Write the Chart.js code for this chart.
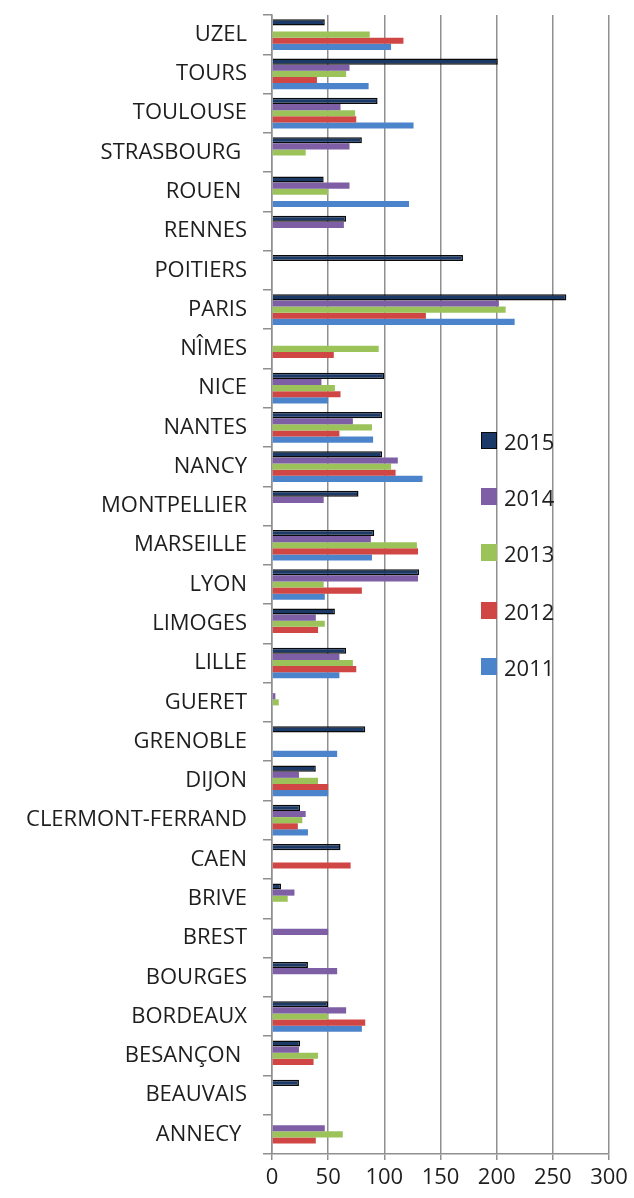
<!DOCTYPE html>
<html>
<head>
<meta charset="utf-8">
<script src="https://cdn.jsdelivr.net/npm/chart.js@4"></script>
<style>
    body { margin: 0; background: #fff; }
    #wrap { position: relative; width: 634px; height: 1198px; }
    #legend { position: absolute; left: 481px; top: 0; font-family: "Open Sans", sans-serif; font-size: 22px; color: #1e1e1e; }
    .row { position: absolute; left: 0; white-space: nowrap; height: 30px; line-height: 30px; }
    .box { position: absolute; left: 0; top: 6px; width: 16px; height: 17px; box-sizing: border-box; }
    .txt { position: absolute; left: 23px; top: 0; }
</style>
</head>
<body>
<div id="wrap">
    <canvas id="myChart" width="634" height="1198"></canvas>
    <div id="legend"></div>
</div>
<script>
// categories, top to bottom (trailing spaces kept as in the original labels)
const villes = ['UZEL', 'TOURS', 'TOULOUSE', 'STRASBOURG ', 'ROUEN ', 'RENNES', 'POITIERS', 'PARIS', 'NÎMES', 'NICE',
    'NANTES', 'NANCY', 'MONTPELLIER', 'MARSEILLE', 'LYON', 'LIMOGES', 'LILLE', 'GUERET', 'GRENOBLE', 'DIJON',
    'CLERMONT-FERRAND', 'CAEN', 'BRIVE', 'BREST', 'BOURGES', 'BORDEAUX', 'BESANÇON ', 'BEAUVAIS', 'ANNECY '];

const annees = ['2015', '2014', '2013', '2012', '2011'];

const v2015 = [47, 201, 94, 80, 46, 66, 170, 262, null, 100, 98, 98, 77, 91, 131, 56, 66, null, 83, 39, 25, 61, 8, null, 32, 50, 25, 24, null];
const v2014 = [null, 69, 61, 69, 69, 64, null, 202, null, 44, 72, 112, 46, 88, 130, 39, 60, 3, null, 24, 30, null, 20, 50, 58, 66, 24, null, 47];
const v2013 = [87, 66, 74, 30, 50, null, null, 208, 95, 56, 89, 106, null, 129, 46, 47, 72, 6, null, 41, 27, null, 14, null, null, 50, 41, null, 63];
const v2012 = [117, 40, 75, null, null, null, null, 137, 55, 61, 60, 110, null, 130, 80, 41, 75, null, null, 50, 23, 70, null, null, null, 83, 37, null, 39];
const v2011 = [106, 86, 126, null, 122, null, null, 216, null, 50, 90, 134, null, 89, 47, null, 60, null, 58, 50, 32, null, null, null, null, 80, null, null, null];

const xTicks = [0, 50, 100, 150, 200, 250, 300];

const couleurs = ['#1C3A68', '#7E5FA6', '#9BC35A', '#CF4644', '#4C84CC'];
const series = [v2015, v2014, v2013, v2012, v2011];

document.addEventListener('DOMContentLoaded', function() {
    const ctx = document.getElementById('myChart').getContext('2d');
    const font = { family: '"Open Sans", sans-serif', size: 22 };
    const gridColor = '#8f8f8f';

    const datasets = series.map((data, i) => ({
        label: annees[i],
        data: data,
        backgroundColor: couleurs[i],
        borderColor: i === 0 ? '#0a0a0a' : couleurs[i],
        borderWidth: i === 0 ? 1.5 : 0,
        categoryPercentage: 0.78,
        barPercentage: 1.0
    }));

    new Chart(ctx, {
        type: 'bar',
        data: { labels: villes, datasets: datasets },
        options: {
            indexAxis: 'y',
            responsive: false,
            animation: false,
            layout: { padding: { top: 15, right: 25, left: 0, bottom: 0 } },
            plugins: {
                legend: { display: false },
                tooltip: { enabled: false }
            },
            scales: {
                x: {
                    min: 0,
                    max: 300,
                    afterBuildTicks: function(scale) {
                        scale.ticks = xTicks.map(v => ({ value: v }));
                    },
                    afterFit: function(scale) { scale.height = 44; },
                    ticks: { font: font, color: '#1e1e1e', padding: 5, maxRotation: 0 },
                    grid: { color: gridColor, lineWidth: 1.5, tickLength: 6 },
                    border: { color: gridColor, width: 1.5 }
                },
                y: {
                    afterFit: function(scale) {
                        scale.width = 272;
                        // label padding should not push the plot down
                        scale.paddingTop = 0;
                        scale.paddingBottom = 0;
                    },
                    ticks: { font: font, color: '#1e1e1e', padding: 16, autoSkip: false },
                    grid: { drawOnChartArea: false, color: gridColor, lineWidth: 1.5, tickLength: 9, offset: true },
                    border: { color: gridColor, width: 1.5 }
                }
            }
        }
    });

    // legend on the right, built from the same series
    const tops = [426, 482, 538, 596, 652];
    const legend = document.getElementById('legend');
    annees.forEach(function(an, i) {
        const row = document.createElement('div');
        row.className = 'row';
        row.style.top = tops[i] + 'px';
        const box = document.createElement('span');
        box.className = 'box';
        box.style.background = couleurs[i];
        if (i === 0) box.style.border = '1.5px solid #0a0a0a';
        const txt = document.createElement('span');
        txt.className = 'txt';
        txt.textContent = an;
        row.appendChild(box);
        row.appendChild(txt);
        legend.appendChild(row);
    });
});
</script>
</body>
</html>
